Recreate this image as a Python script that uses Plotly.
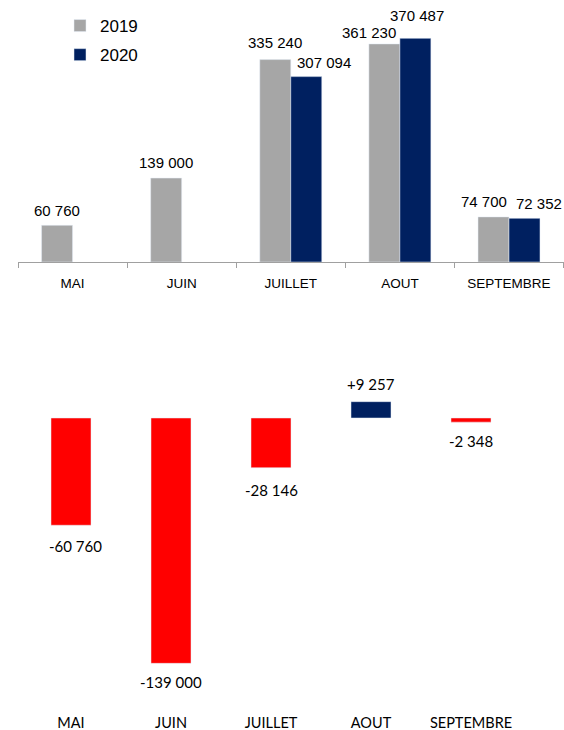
import plotly.graph_objects as go

months = ["MAI", "JUIN", "JUILLET", "AOUT", "SEPTEMBRE"]
values_2019 = [60760, 139000, 335240, 361230, 74700]
values_2020 = [None, None, 307094, 370487, 72352]
diffs = [-60760, -139000, -28146, 9257, -2348]

GRAY = "#a6a6a6"
NAVY = "#002060"
RED = "#ff0000"

W, H = 564, 730


def fmt(v, sign=False):
    s = f"{abs(v):,}".replace(",", " ")
    if sign:
        return ("+" if v > 0 else "-") + s
    return s


fig = go.Figure()

bw = 0.284
fig.add_trace(go.Bar(x=months, y=values_2019, name="2019", marker_color=GRAY,
                     width=bw, offset=-bw, xaxis="x", yaxis="y",
                     legendgroup="a", hoverinfo="skip"))
fig.add_trace(go.Bar(x=months, y=values_2020, name="2020", marker_color=NAVY,
                     width=bw, offset=0, xaxis="x", yaxis="y",
                     legendgroup="b", hoverinfo="skip"))

diff_colors = [NAVY if d > 0 else RED for d in diffs]
fig.add_trace(go.Bar(x=months, y=diffs, marker_color=diff_colors, width=0.4,
                     xaxis="x2", yaxis="y2", showlegend=False, hoverinfo="skip"))

# label placement tweaks (pixels): x shift from category centre, y shift from bar end
shift_2019 = [(-16, 15), (-16, 16), (-16, 17), (-31, 11), (-25, 15)]
shift_2020 = [None, None, (33, 14), (17, 23), (30, 15)]
shift_diff = [(4, -21), (0, -19), (0, -22), (0, 18), (0, -19)]

ann = []
for i, m in enumerate(months):
    v = values_2019[i]
    if v is not None:
        dx, dy = shift_2019[i]
        ann.append(dict(x=i, y=v, xref="x", yref="y", text=fmt(v), showarrow=False,
                        xshift=dx, yshift=dy, yanchor="middle",
                        font=dict(family="Liberation Sans, Arial", size=15, color="#000000")))
    v = values_2020[i]
    if v is not None:
        dx, dy = shift_2020[i]
        ann.append(dict(x=i, y=v, xref="x", yref="y", text=fmt(v), showarrow=False,
                        xshift=dx, yshift=dy, yanchor="middle",
                        font=dict(family="Liberation Sans, Arial", size=15, color="#000000")))
    d = diffs[i]
    dx, dy = shift_diff[i]
    ann.append(dict(x=i, y=d, xref="x2", yref="y2", text=fmt(d, sign=True), showarrow=False,
                    xshift=dx, yshift=dy, yanchor="middle",
                    font=dict(family="Lato, Liberation Sans", size=15, color="#000000")))

fig.update_layout(
    width=W, height=H,
    margin=dict(l=0, r=0, t=0, b=0),
    paper_bgcolor="white", plot_bgcolor="white",
    barmode="overlay",
    showlegend=True,
    legend=dict(x=60 / W, y=1 - 8 / H, xanchor="left", yanchor="top",
                font=dict(family="Liberation Sans, Arial", size=17, color="#000000"),
                tracegroupgap=4, bgcolor="rgba(0,0,0,0)", itemclick=False),
    xaxis=dict(domain=[18 / W, 1], type="category", anchor="y",
               showline=True, linecolor="#a0a0a0", linewidth=1,
               ticks="outside", tickson="boundaries", ticklen=5, tickcolor="#a0a0a0",
               ticklabelstandoff=9,
               tickfont=dict(family="Liberation Sans, Arial", size=13.5, color="#000000"),
               showgrid=False, fixedrange=True),
    yaxis=dict(domain=[1 - 262 / H, 1], range=[0, 434000], anchor="x",
               showticklabels=False, showgrid=False, zeroline=False, showline=False,
               fixedrange=True),
    xaxis2=dict(domain=[21 / W, 521 / W], type="category", anchor="y2",
                showline=False, ticks="", ticklabelstandoff=7,
                tickfont=dict(family="Lato, Liberation Sans", size=14.5, color="#000000"),
                showgrid=False, fixedrange=True),
    yaxis2=dict(domain=[1 - 705 / H, 1 - 375 / H], range=[-162600, 24360], anchor="x2",
                showticklabels=False, showgrid=False, zeroline=False, showline=False,
                fixedrange=True),
    annotations=ann,
)

fig.write_html("out.html", config={"displayModeBar": False},
               post_script="document.body.style.margin='0';document.body.style.overflow='hidden';")
